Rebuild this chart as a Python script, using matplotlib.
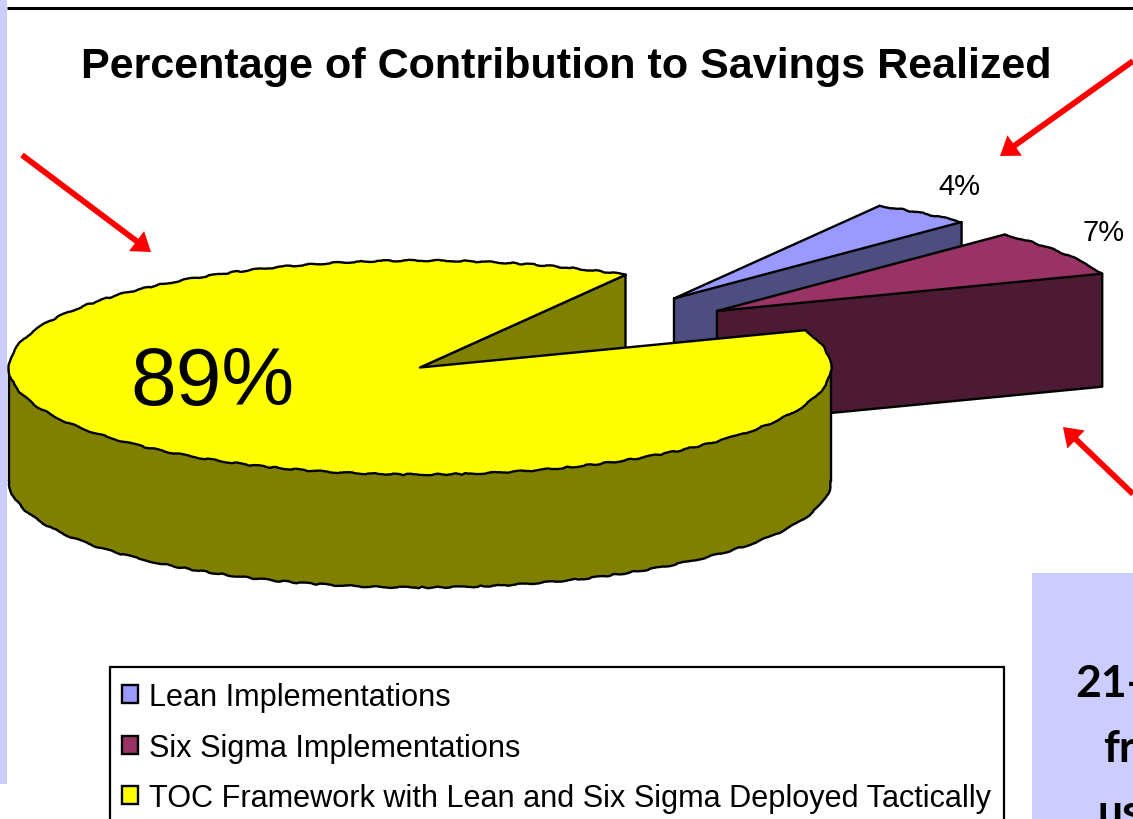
import numpy as np
import matplotlib
matplotlib.use("Agg")
import matplotlib.pyplot as plt
from matplotlib.patches import Polygon, Rectangle, FancyArrowPatch, Patch
from matplotlib.lines import Line2D

# Chart data
categories = ["Lean Implementations", "Six Sigma Implementations",
              "TOC Framework with Lean and Six Sigma Deployed Tactically"]
shares = [4, 7, 89]
title = "Percentage of Contribution to Savings Realized"
side_text = ["21-", "fr", "us"]

# Slice colours: top surface and shaded wall
top_colors = ["#9999ff", "#993366", "#ffff00"]
wall_colors = ["#4d4d80", "#4d1a33", "#808000"]

# Pie geometry in pixel units
CX, CY = 420, 368.5
RX, RY = 411, 107
DEPTH = 113
START_ANGLE = 60.0
EXPLODE = [(254, -69), (297, -56.5), (0, 0)]
LW = 1.7
WOBBLE = (0.7, 45, 8)

plt.rcParams["font.family"] = ["Liberation Sans", "DejaVu Sans"]
fig = plt.figure(figsize=(11.33, 8.2), dpi=100)
ax = fig.add_axes([0, 0, 1, 1])
ax.set_xlim(0, 1133)
ax.set_ylim(820, 0)
ax.axis("off")


def rim(t1, t2, ox=0, oy=0, drop=0):
    """Points along the projected pie edge between two angles in degrees."""
    t = np.radians(np.linspace(t1, t2, max(int(abs(t2 - t1) * 2), 4)))
    return np.column_stack([CX + ox + RX * np.cos(t),
                            CY + oy + drop - RY * np.sin(t)])


def fill(points, color, z):
    ax.add_patch(Polygon(points, closed=True, facecolor=color, edgecolor="none", zorder=z))


def stroke(points, z, wobble=False):
    points = np.asarray(points)
    line = Line2D(points[:, 0], points[:, 1], color="black", lw=LW, zorder=z,
                  solid_joinstyle="round", solid_capstyle="round")
    if wobble:
        line.set_sketch_params(*WOBBLE)
    ax.add_line(line)


# Slide background pieces around the chart
ax.add_patch(Rectangle((0, 0), 7, 785, facecolor="#ccccff", edgecolor="none", zorder=0))
ax.add_patch(Rectangle((1032, 573.5), 101, 247, facecolor="#ccccff", edgecolor="none", zorder=0))
ax.plot([7, 1133], [8.5, 8.5], color="black", lw=2.2, zorder=1, solid_capstyle="butt")

for line_text, x, y in zip(side_text, [1075, 1103, 1097], [697, 762, 826]):
    ax.text(x, y, line_text, family="Lato", weight="bold", fontsize=32, color="black",
            ha="left", va="baseline", zorder=2)

# Slices run clockwise from the start angle
edges = START_ANGLE - np.cumsum([0] + shares) * 3.6

# Exploded slices: lean first, then six sigma in front of it
for i in (0, 1):
    ox, oy = EXPLODE[i]
    t_hi, t_lo = edges[i], edges[i + 1]
    tip = np.array([CX + ox, CY + oy])
    arc = rim(t_hi, t_lo, ox, oy)
    z = 3 + i
    fill(np.vstack([tip, arc]), top_colors[i], z)
    stroke(np.vstack([tip, arc[:1]]), z + 0.1)
    stroke(arc, z + 0.1, wobble=True)
    # cut face toward the viewer
    near = arc[-1]
    face = np.array([tip, near, near + [0, DEPTH], tip + [0, DEPTH]])
    fill(face, wall_colors[i], z + 0.2)
    stroke(np.vstack([face, face[:1]]), z + 0.3)

# Large slice: inner cut face, outer wall, then the top surface
t_start, t_end = edges[2], edges[3]
centre = np.array([CX, CY])
far = rim(t_end, t_end - 1)[0]
face = np.array([centre, far, far + [0, DEPTH], centre + [0, DEPTH]])
fill(face, wall_colors[2], 6)
stroke(face[:3], 6.1)

upper = rim(180, 360)
lower = rim(180, 360, drop=DEPTH)
fill(np.vstack([upper, lower[::-1]]), wall_colors[2], 7)
stroke(lower, 7.1, wobble=True)
stroke([upper[0], lower[0]], 7.1)
stroke([upper[-1], lower[-1]], 7.1)

arc = rim(t_start, t_end)
fill(np.vstack([centre, arc]), top_colors[2], 8)
stroke(arc, 8.1, wobble=True)
stroke([arc[0], centre, arc[-1]], 8.1)

# Value labels
ax.text(959, 187, f"{shares[0]}%", fontsize=21, ha="center", va="center", zorder=9)
ax.text(1104, 233, f"{shares[1]}%", fontsize=21, ha="center", va="center", zorder=9)
ax.text(212, 384, f"{shares[2]}%", fontsize=59, ha="center", va="center", zorder=9)

ax.text(566, 67, title, fontsize=31.1, weight="bold", ha="center", va="center", zorder=9)

# Legend frame runs off the lower edge of the figure
ax.add_patch(Rectangle((110, 667.5), 894, 180, facecolor="white", edgecolor="black",
                       linewidth=1.6, zorder=9.5))
handles = [Patch(facecolor=c, edgecolor="black", linewidth=LW) for c in top_colors]
legend = ax.legend(handles, categories, loc="upper left", bbox_to_anchor=(110, 671),
                   bbox_transform=ax.transData, borderaxespad=0, fontsize=22.1,
                   frameon=False, labelspacing=0.66,
                   handlelength=0.52, handleheight=0.52, handletextpad=0.36, borderpad=0.4)
legend.set_zorder(10)

# Red call-out arrows
arrows = [((22, 156), (151, 253)), ((1133, 62), (1000, 157)), ((1133, 495), (1063, 428))]
for tail, head in arrows:
    ax.add_patch(FancyArrowPatch(tail, head, mutation_scale=1, shrinkA=0, shrinkB=0,
                                 arrowstyle="simple,head_length=13,head_width=18,tail_width=4.2",
                                 facecolor="#ff0000", edgecolor="none", zorder=11))

fig.savefig("out.png", dpi=100)
